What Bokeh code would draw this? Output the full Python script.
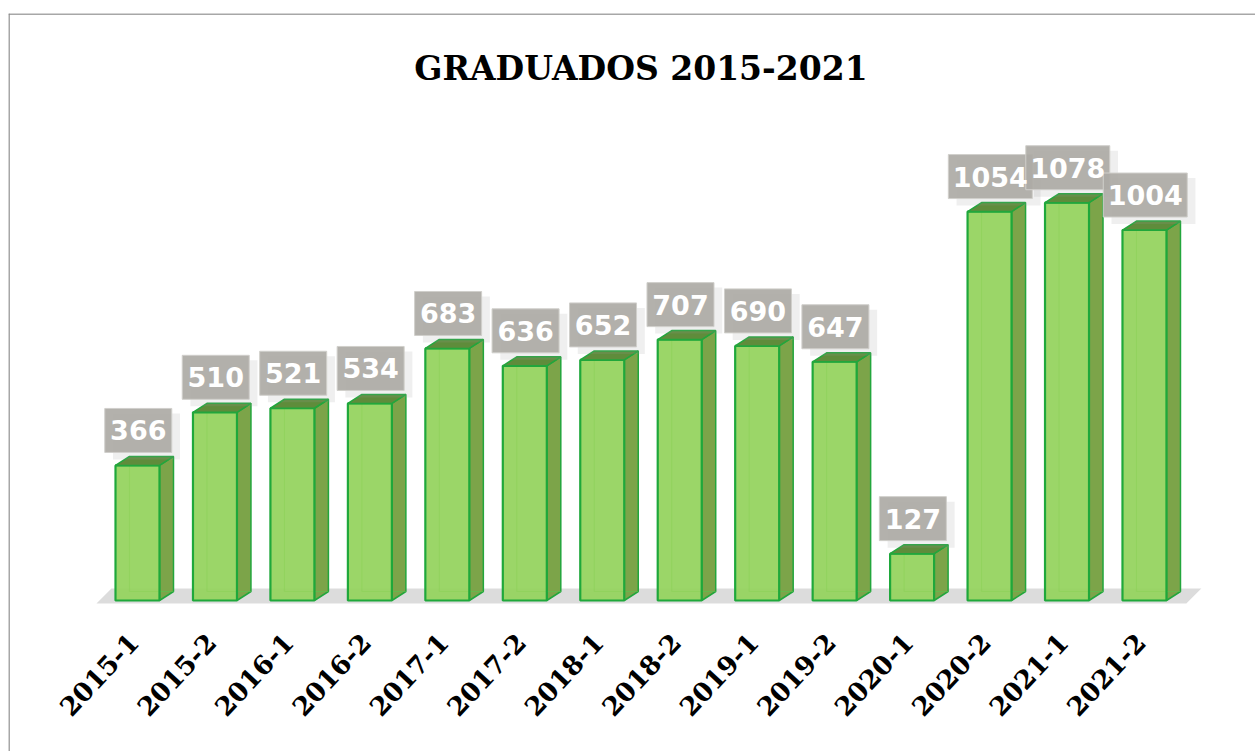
from bokeh.plotting import figure
from bokeh.models import ColumnDataSource, Range1d, Span
from bokeh.core.properties import value
from bokeh.embed import file_html
from bokeh.resources import INLINE
import math

# ---- data ----
categories = ["2015-1", "2015-2", "2016-1", "2016-2", "2017-1", "2017-2", "2018-1",
              "2018-2", "2019-1", "2019-2", "2020-1", "2020-2", "2021-1", "2021-2"]
graduados = [366, 510, 521, 534, 683, 636, 652, 707, 690, 647, 127, 1054, 1078, 1004]
title_text = "GRADUADOS 2015-2021"

n = len(categories)
idx = list(range(n))

# ---- geometry (in data units) ----
PX_X = 77.46      # px per category
PX_Y = 0.369      # px per graduate
hw = 22 / PX_X    # half bar width
dx = 14 / PX_X    # depth offset x
dy = 9 / PX_Y     # depth offset y

W, H = 1255, 751
BL, BT = 8, 13
FW, FH = W - BL, H - BT
x0 = -(137 - BL) / PX_X
y1 = (600 - BT) / PX_Y
p = figure(width=W, height=H, output_backend="svg", toolbar_location=None,
           x_axis_location=None, y_axis_location=None,
           min_border_left=BL, min_border_right=0, min_border_top=BT, min_border_bottom=0,
           x_range=Range1d(x0, x0 + FW / PX_X),
           y_range=Range1d(y1 - FH / PX_Y, y1))
p.grid.visible = False
p.outline_line_color = None
p.background_fill_color = "white"
p.border_fill_color = "white"

# chart frame (left and top edges only visible in the window)
p.add_layout(Span(location=x0 + 0.5 / PX_X, dimension="height", line_color="#8a8a8a", line_width=1.5))
p.add_layout(Span(location=y1 - 0.5 / PX_Y, dimension="width", line_color="#8a8a8a", line_width=1.5))

# floor
fl_left, fl_right = -0.53, (n - 1) + 0.54
fdy = 15 / PX_Y
floor_y0 = -8.0
p.patch([fl_left, fl_right, fl_right + 15 / PX_X, fl_left + 15 / PX_X],
        [floor_y0, floor_y0, floor_y0 + fdy, floor_y0 + fdy],
        fill_color="#d8d8d8", line_color=None, fill_alpha=0.9)

# bar faces
left = [i - hw for i in idx]
right = [i + hw for i in idx]
side_xs = [[r, r + dx, r + dx, r] for r in right]
side_ys = [[0, dy, v + dy, v] for v in graduados]
top_xs = [[l, r, r + dx, l + dx] for l, r in zip(left, right)]
top_ys = [[v, v, v + dy, v + dy] for v in graduados]

# back inner edges (visible through translucent front)
back_xs = [[l + dx, l + dx, r + dx] for l, r in zip(left, right)]
back_ys = [[v + dy, dy, dy] for v in graduados]

p.patches(side_xs, side_ys, fill_color="#7ca449", line_color="#22a63c", line_width=1.5)
p.multi_line(back_xs, back_ys, line_color="#5cbf4f", line_width=1.2, line_alpha=0.7)
p.quad(left=left, right=right, bottom=[0] * n, top=graduados,
       fill_color="#92d25b", fill_alpha=0.92, line_color="#1fa83b", line_width=2.2)
p.patches(top_xs, top_ys, fill_color="#5f8c3b", line_color="#22a63c", line_width=1.5)

# value labels
lab_src = ColumnDataSource(dict(
    x=[i + 0.01 for i in idx],
    y=[v + (13 + 22) / PX_Y for v in graduados],
    ys=[v + (13 + 22) / PX_Y - 6 / PX_Y for v in graduados],
    xs=[i + 9 / PX_X for i in idx],
    w=[17 * len(str(v)) + 16 for v in graduados],
    t=[str(v) for v in graduados],
))
p.rect(x="xs", y="ys", width="w", height=46, width_units="screen", height_units="screen",
       source=lab_src, fill_color="#9a9a9a", fill_alpha=0.16, line_color=None)
p.rect(x="x", y="y", width="w", height=44, width_units="screen", height_units="screen",
       source=lab_src, fill_color="#acaaa5", fill_alpha=0.92, line_color="#d0cfcb", line_width=1)
p.text(x="x", y="y", text="t", source=lab_src, text_align="center", text_baseline="middle",
       text_font=value("DejaVu Sans"), text_font_style="bold", text_font_size="27px",
       text_color="white")

# category labels (rotated)
cat_src = ColumnDataSource(dict(x=[i - 0.05 for i in idx], y=[-100.0] * n, t=categories))
p.text(x="x", y="y", text="t", source=cat_src, angle=math.radians(47),
       text_align="right", text_baseline="middle",
       text_font=value("DejaVu Serif"), text_font_style="bold", text_font_size="26px",
       text_color="black")

# title
p.text(x=[(n - 1) / 2], y=[(600 - 68) / PX_Y], text=[title_text],
       text_align="center", text_baseline="middle",
       text_font=value("DejaVu Serif"), text_font_style="bold", text_font_size="33px",
       text_color="black")

open("out.html", "w").write(file_html(p, INLINE))
